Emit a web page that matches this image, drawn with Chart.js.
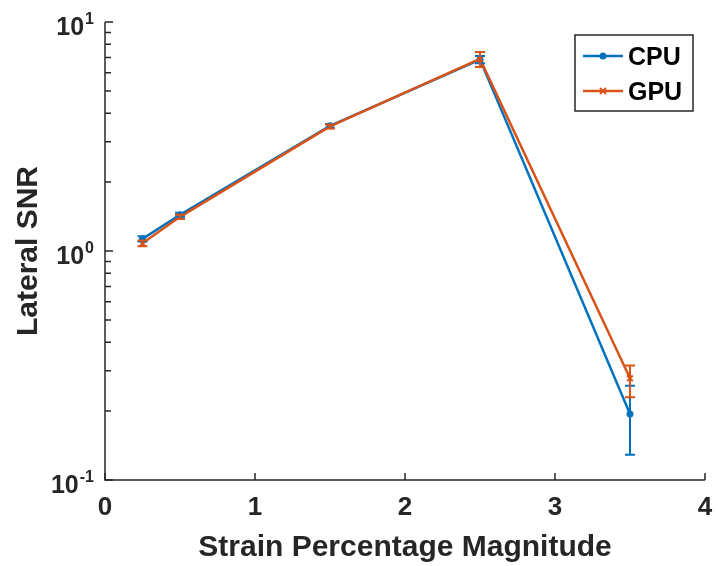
<!DOCTYPE html>
<html>
<head>
<meta charset="utf-8">
<script src="https://cdn.jsdelivr.net/npm/chart.js@4/dist/chart.umd.min.js"></script>
<style>
  html, body { margin: 0; padding: 0; background: #ffffff; }
  #wrap { width: 718px; height: 566px; }
</style>
</head>
<body>
<div id="wrap"><canvas id="c" width="718" height="566"></canvas></div>
<script>
// ---- data ----
const strain   = [0.25, 0.5, 1.5, 2.5, 3.5];
const cpuSNR   = [1.13, 1.44, 3.52, 6.85, 0.194];
const cpuLow   = [1.10, 1.41, 3.45, 6.60, 0.129];
const cpuHigh  = [1.16, 1.47, 3.59, 7.10, 0.258];
const gpuSNR   = [1.08, 1.41, 3.50, 6.90, 0.278];
const gpuLow   = [1.05, 1.38, 3.43, 6.36, 0.230];
const gpuHigh  = [1.11, 1.44, 3.57, 7.39, 0.316];
const xTicks   = [0, 1, 2, 3, 4];
const yDecades = [0.1, 1, 10];
const yExponents = ['-1', '0', '1'];
const seriesNames = ['CPU', 'GPU'];

const CPU_COLOR = '#0072BD';
const GPU_COLOR = '#D95319';
const AX = '#262626';

function pts(xs, ys) { return xs.map((x, i) => ({ x: x, y: ys[i] })); }

const errorBars = [
  { low: cpuLow, high: cpuHigh, color: CPU_COLOR },
  { low: gpuLow, high: gpuHigh, color: GPU_COLOR }
];

const decorPlugin = {
  id: 'decor',
  afterDatasetsDraw(chart) {
    const ctx = chart.ctx;
    const xs = chart.scales.x, ys = chart.scales.y;
    ctx.save();
    errorBars.forEach(eb => {
      ctx.strokeStyle = eb.color;
      ctx.lineWidth = 2;
      strain.forEach((sx, i) => {
        const px = xs.getPixelForValue(sx);
        const pl = ys.getPixelForValue(eb.low[i]);
        const ph = ys.getPixelForValue(eb.high[i]);
        ctx.beginPath();
        ctx.moveTo(px, pl); ctx.lineTo(px, ph);
        ctx.moveTo(px - 5, pl); ctx.lineTo(px + 5, pl);
        ctx.moveTo(px - 5, ph); ctx.lineTo(px + 5, ph);
        ctx.stroke();
      });
    });
    ctx.restore();
  },
  afterDraw(chart) {
    const ctx = chart.ctx;
    const xs = chart.scales.x, ys = chart.scales.y;
    const ca = chart.chartArea;
    ctx.save();
    ctx.strokeStyle = AX;
    ctx.lineWidth = 1.5;
    // axes lines
    ctx.beginPath();
    ctx.moveTo(ca.left, ca.top); ctx.lineTo(ca.left, ca.bottom); ctx.lineTo(ca.right, ca.bottom);
    ctx.stroke();
    // x ticks (inward)
    ctx.beginPath();
    xTicks.forEach(v => {
      const px = xs.getPixelForValue(v);
      ctx.moveTo(px, ca.bottom); ctx.lineTo(px, ca.bottom - 7);
    });
    // y major + minor ticks (inward)
    yDecades.forEach((d, k) => {
      const py = ys.getPixelForValue(d);
      ctx.moveTo(ca.left, py); ctx.lineTo(ca.left + 8, py);
      if (k < yDecades.length - 1) {
        for (let m = 2; m <= 9; m++) {
          const pm = ys.getPixelForValue(d * m);
          ctx.moveTo(ca.left, pm); ctx.lineTo(ca.left + 6, pm);
        }
      }
    });
    ctx.stroke();

    ctx.fillStyle = AX;
    // x tick labels
    ctx.font = 'bold 26px "Liberation Sans", Arial, sans-serif';
    ctx.textAlign = 'center';
    ctx.textBaseline = 'alphabetic';
    xTicks.forEach(v => {
      ctx.fillText(String(v), xs.getPixelForValue(v), 515);
    });
    // y tick labels 10^n
    yDecades.forEach((d, k) => {
      const py = ys.getPixelForValue(d);
      const exp = yExponents[k];
      ctx.font = 'bold 16px "Liberation Sans", Arial, sans-serif';
      const ew = ctx.measureText(exp).width;
      const right = ca.left - 11;
      ctx.textAlign = 'right';
      ctx.fillText(exp, right, py + 2);
      ctx.font = 'bold 25px "Liberation Sans", Arial, sans-serif';
      ctx.fillText('10', right - ew - 1, py + 13);
    });
    // axis titles
    ctx.font = 'bold 30px "Liberation Sans", Arial, sans-serif';
    ctx.textAlign = 'center';
    ctx.fillText('Strain Percentage Magnitude', (ca.left + ca.right) / 2, 556);
    ctx.save();
    ctx.translate(37, (ca.top + ca.bottom) / 2);
    ctx.rotate(-Math.PI / 2);
    ctx.fillText('Lateral SNR', 0, 0);
    ctx.restore();

    // legend
    const bx = 575, by = 35, bw = 118, bh = 76;
    ctx.fillStyle = '#ffffff';
    ctx.fillRect(bx, by, bw, bh);
    ctx.strokeStyle = AX;
    ctx.lineWidth = 1.5;
    ctx.strokeRect(bx, by, bw, bh);
    const rows = [56, 91];
    const colors = [CPU_COLOR, GPU_COLOR];
    rows.forEach((ry, i) => {
      ctx.strokeStyle = colors[i];
      ctx.lineWidth = 2.5;
      ctx.beginPath();
      ctx.moveTo(583, ry); ctx.lineTo(623, ry);
      ctx.stroke();
      if (i === 0) {
        ctx.fillStyle = colors[i];
        ctx.beginPath(); ctx.arc(603, ry, 3.5, 0, Math.PI * 2); ctx.fill();
      } else {
        ctx.lineWidth = 2;
        ctx.beginPath();
        ctx.moveTo(600, ry - 3); ctx.lineTo(606, ry + 3);
        ctx.moveTo(606, ry - 3); ctx.lineTo(600, ry + 3);
        ctx.stroke();
      }
      ctx.fillStyle = '#000000';
      ctx.font = 'bold 25px "Liberation Sans", Arial, sans-serif';
      ctx.textAlign = 'left';
      ctx.fillText(seriesNames[i], 628, ry + 9);
    });
    ctx.restore();
  }
};

new Chart(document.getElementById('c'), {
  type: 'line',
  data: {
    datasets: [
      {
        label: seriesNames[0],
        data: pts(strain, cpuSNR),
        borderColor: CPU_COLOR,
        backgroundColor: CPU_COLOR,
        borderWidth: 2.5,
        pointStyle: 'circle',
        pointRadius: 3.5,
        pointBorderWidth: 0,
        tension: 0,
        order: 1
      },
      {
        label: seriesNames[1],
        data: pts(strain, gpuSNR),
        borderColor: GPU_COLOR,
        backgroundColor: GPU_COLOR,
        borderWidth: 2.5,
        pointStyle: 'crossRot',
        pointRadius: 4,
        pointBorderWidth: 2,
        tension: 0,
        order: 0
      }
    ]
  },
  options: {
    responsive: false,
    animation: false,
    devicePixelRatio: 1,
    layout: { padding: { left: 105, top: 22, right: 13, bottom: 86 } },
    plugins: { legend: { display: false }, tooltip: { enabled: false } },
    scales: {
      x: { type: 'linear', min: 0, max: 4, display: false },
      y: { type: 'logarithmic', min: 0.1, max: 10, display: false }
    },
    elements: { line: { fill: false } }
  },
  plugins: [decorPlugin]
});
</script>
</body>
</html>
